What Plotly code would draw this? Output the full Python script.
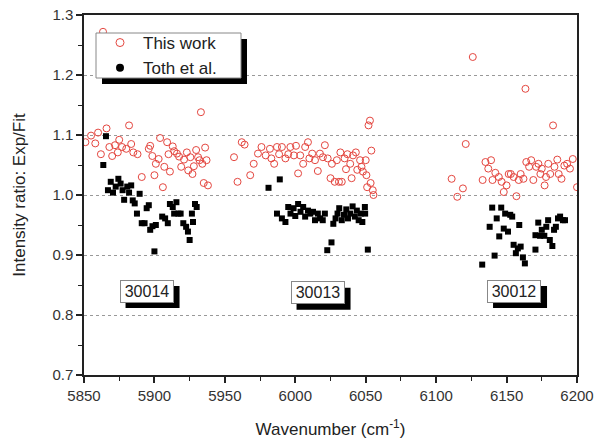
import plotly.graph_objects as go

# ---- data: This work (open red circles) ----
this_x = [5851, 5855, 5858, 5860, 5862, 5863.5, 5866, 5868, 5870, 5872, 5874, 5875, 5877, 5880,
          5882, 5883.5, 5885, 5888, 5891, 5896, 5897, 5898.5, 5900, 5901, 5903, 5904, 5906, 5907,
          5909, 5910, 5911, 5913, 5914, 5916, 5917.5, 5919, 5921, 5923, 5924, 5925.5, 5927, 5928,
          5929.6, 5931, 5932, 5933, 5934, 5935, 5936, 5937, 5938,
          5956.5, 5959, 5962, 5964, 5968, 5970.5, 5973.5, 5976, 5979, 5982, 5983, 5985, 5987,
          5988.5, 5990.5, 5993, 5995, 5996.5, 5999, 6000.5, 6002, 6003.5, 6005.6, 6007, 6009,
          6010, 6012, 6014, 6016, 6017.5, 6019.6, 6021, 6023, 6025, 6026, 6028, 6029.5, 6031,
          6032, 6033, 6035, 6036, 6037, 6039, 6040, 6041, 6043, 6044, 6046, 6047, 6048, 6050,
          6050.5, 6052, 6053, 6051, 6053.5, 6054, 6055, 6055.5,
          6111, 6115, 6119, 6121, 6126, 6133, 6135, 6137, 6139, 6140, 6142, 6144.5, 6146.5, 6148,
          6150, 6151.5, 6153, 6155, 6157, 6158.6, 6160, 6162, 6163.4, 6164, 6166, 6167.5, 6169,
          6171, 6172.6, 6174, 6175, 6177, 6178, 6179.6, 6181, 6183, 6184, 6186, 6187, 6189, 6191,
          6193, 6195, 6197, 6200]
this_y = [1.088, 1.099, 1.086, 1.104, 1.068, 1.272, 1.111, 1.080, 1.065, 1.083, 1.071, 1.092, 1.080, 1.077,
          1.116, 1.085, 1.071, 1.068, 1.030, 1.077, 1.082, 1.065, 1.033, 1.052, 1.060, 1.095, 1.013, 1.047,
          1.088, 1.068, 1.039, 1.081, 1.073, 1.069, 1.064, 1.047, 1.059, 1.071, 1.041, 1.063, 1.035, 1.048,
          1.075, 1.063, 1.058, 1.138, 1.052, 1.020, 1.079, 1.058, 1.016,
          1.063, 1.022, 1.088, 1.084, 1.033, 1.052, 1.069, 1.080, 1.066, 1.077, 1.061, 1.052, 1.080,
          1.068, 1.080, 1.061, 1.068, 1.080, 1.066, 1.082, 1.036, 1.066, 1.052, 1.080, 1.088,
          1.061, 1.069, 1.058, 1.040, 1.069, 1.063, 1.083, 1.061, 1.028, 1.052, 1.022, 1.058, 1.022,
          1.071, 1.022, 1.061, 1.043, 1.068, 1.052, 1.028, 1.066, 1.071, 1.042, 1.058, 1.047, 1.039, 1.058,
          1.033, 1.116, 1.124, 1.013, 1.020, 1.074, 1.008, 1.000,
          1.027, 0.997, 1.011, 1.085, 1.230, 1.025, 1.055, 1.044, 1.058, 1.025, 1.037, 1.030, 1.022, 1.005,
          1.016, 1.035, 1.035, 1.030, 0.998, 1.025, 1.035, 1.027, 1.177, 1.055, 1.047, 1.058, 1.025,
          1.047, 1.052, 1.035, 1.044, 1.016, 1.030, 1.052, 1.035, 1.116, 1.047, 1.059, 1.035, 1.027, 1.049,
          1.052, 1.044, 1.060, 1.013]

# ---- data: Toth et al. (filled black squares) ----
toth_x = [5865.6, 5863.7, 5867, 5869, 5870.6, 5872.5, 5874.4, 5876, 5877.4, 5878.5, 5880.7, 5882,
          5883.5, 5884.6, 5886, 5887.6, 5889.5, 5891, 5893, 5894.5, 5896, 5897, 5898.6, 5900, 5901,
          5905.5, 5907.6, 5909.5, 5911, 5913, 5914, 5915.6, 5917, 5918.6, 5920.5, 5922.5, 5923.8,
          5925, 5926.6, 5927.4, 5928.8, 5930,
          5981, 5989, 5987, 5990.5, 5993, 5995, 5996.6, 5998.8, 6000, 6002, 6003.7, 6005.6, 6007,
          6009, 6010.7, 6012.6, 6014, 6016, 6017.6, 6019.5, 6021, 6022.7, 6025.7, 6027, 6028.6, 6030,
          6031.2, 6033, 6034.6, 6036.2, 6037.4, 6039, 6040.7, 6042.3, 6043.7, 6045, 6046.5, 6047.6,
          6049.4, 6049.6, 6051.5,
          6132.7, 6138, 6139.8, 6141.5, 6143, 6144.8, 6146.2, 6148, 6149, 6151, 6152.6, 6154, 6155,
          6156.6, 6158, 6159, 6160, 6161.6, 6163, 6170.5, 6170.5, 6172.5, 6173.8, 6175, 6176.8,
          6178.2, 6179.5, 6180.7, 6182.5, 6183.7, 6185, 6186.5, 6188, 6190, 6191.5]
toth_y = [1.098, 1.050, 1.008, 1.022, 1.004, 1.014, 1.027, 1.019, 1.008, 0.992, 1.014, 1.004,
          1.016, 0.991, 0.986, 0.969, 1.002, 0.953, 0.953, 0.978, 0.983, 0.942, 0.948, 0.906, 0.950,
          0.964, 0.961, 0.953, 0.985, 0.980, 0.969, 0.988, 0.969, 0.969, 0.953, 0.947, 0.939,
          0.925, 0.969, 0.955, 0.985, 0.980,
          1.012, 1.026, 0.969, 0.961, 0.955, 0.980, 0.969, 0.978, 0.965, 0.985, 0.972, 0.980, 0.964,
          0.974, 0.969, 0.972, 0.958, 0.969, 0.961, 0.958, 0.969, 0.908, 0.921, 0.952, 0.961, 0.969,
          0.978, 0.958, 0.967, 0.976, 0.961, 0.969, 0.981, 0.964, 0.974, 0.958, 0.969, 0.955,
          0.980, 0.969, 0.909,
          0.884, 0.947, 0.979, 0.899, 0.961, 0.931, 0.979, 0.944, 0.969, 0.939, 0.967, 0.964, 0.917,
          0.903, 0.911, 0.950, 0.914, 0.896, 0.886, 0.909, 0.933, 0.954, 0.932, 0.942, 0.932,
          0.947, 0.958, 0.925, 0.915, 0.942, 0.947, 0.961, 0.964, 0.958, 0.958]

band_labels = ["30014", "30013", "30012"]
band_x = [5894.4, 6015.8, 6155.3]
band_y = [0.840, 0.837, 0.840]

FONT = "Arial, Liberation Sans, sans-serif"
RED = "#e4463f"

# plot area in pixels (for paper-coordinate conversions)
PL, PR, PT, PB = 84, 577, 15, 375


def px(x):
    return (x - PL) / (PR - PL)


def py(y):
    return (PB - y) / (PB - PT)


fig = go.Figure()

fig.add_trace(go.Scatter(x=this_x, y=this_y, mode="markers", showlegend=False,
                         marker=dict(symbol="circle-open", size=7, color=RED,
                                     line=dict(width=1, color=RED))))
fig.add_trace(go.Scatter(x=toth_x, y=toth_y, mode="markers", showlegend=False,
                         marker=dict(symbol="square", size=6, color="black")))

# legend-only entries (legend shows circles)
fig.add_trace(go.Scatter(x=[None], y=[None], mode="markers", name="This work",
                         marker=dict(symbol="circle-open", size=8, color=RED,
                                     line=dict(width=1, color=RED))))
fig.add_trace(go.Scatter(x=[None], y=[None], mode="markers", name="Toth et al.",
                         marker=dict(symbol="circle", size=8, color="black")))

# band label boxes with drop shadows
for lab, bx, by in zip(band_labels, band_x, band_y):
    fig.add_shape(type="rect", xref="x", yref="y", layer="above",
                  xsizemode="pixel", ysizemode="pixel", xanchor=bx, yanchor=by,
                  x0=-27 + 6, x1=27 + 6, y0=-11 - 6, y1=11 - 6,
                  fillcolor="black", line=dict(width=0))
    fig.add_annotation(x=bx, y=by, xref="x", yref="y", text=lab, showarrow=False,
                       font=dict(family=FONT, size=16, color="#222"),
                       width=50, height=19, borderpad=1,
                       bgcolor="white", bordercolor="#888", borderwidth=1)

# legend frame: shadow + white box (legend entries drawn on top)
fig.add_shape(type="rect", xref="paper", yref="paper", layer="above",
              x0=px(102), x1=px(247), y0=py(84), y1=py(39),
              fillcolor="black", line=dict(width=0))
fig.add_shape(type="rect", xref="paper", yref="paper", layer="above",
              x0=px(96), x1=px(241), y0=py(78), y1=py(33),
              fillcolor="white", line=dict(width=1, color="#888"))

fig.update_layout(
    width=606, height=441,
    margin=dict(l=PL, r=606 - PR, t=PT, b=441 - PB),
    paper_bgcolor="white", plot_bgcolor="white",
    font=dict(family=FONT, size=15, color="#333"),
    legend=dict(x=px(97), y=py(25), xanchor="left", yanchor="top",
                bgcolor="rgba(0,0,0,0)", borderwidth=0,
                font=dict(family=FONT, size=17, color="#222"),
                itemwidth=36, tracegroupgap=0),
    xaxis=dict(range=[5850, 6200], dtick=50, tick0=5850, showgrid=False, zeroline=False,
               automargin=False,
               showline=True, linecolor="#222", linewidth=1.5, mirror=True,
               ticks="outside", ticklen=6, tickcolor="#222", tickwidth=1.5,
               minor=dict(dtick=25, ticks="outside", ticklen=4, tickcolor="#222", tickwidth=1),
               tickfont=dict(family=FONT, size=15, color="#333"),
               title=dict(text="Wavenumber (cm<sup>-1</sup>)", font=dict(family=FONT, size=17, color="#222"),
                          standoff=20)),
    yaxis=dict(range=[0.7, 1.3], dtick=0.1, tick0=0.7, tickformat=".1f",
               automargin=False,
               showgrid=True, gridcolor="#999", griddash="dot", gridwidth=1, zeroline=False,
               showline=True, linecolor="#222", linewidth=1.5, mirror=True,
               ticks="outside", ticklen=6, tickcolor="#222", tickwidth=1.5,
               minor=dict(dtick=0.05, ticks="outside", ticklen=4, tickcolor="#222", tickwidth=1, showgrid=False),
               tickfont=dict(family=FONT, size=15, color="#333"),
               title=dict(text="Intensity ratio: Exp/Fit", font=dict(family=FONT, size=17, color="#222"),
                          standoff=22)),
)

fig.write_html("out.html", config={"displayModeBar": False},
               post_script="document.body.style.margin='0px';")
